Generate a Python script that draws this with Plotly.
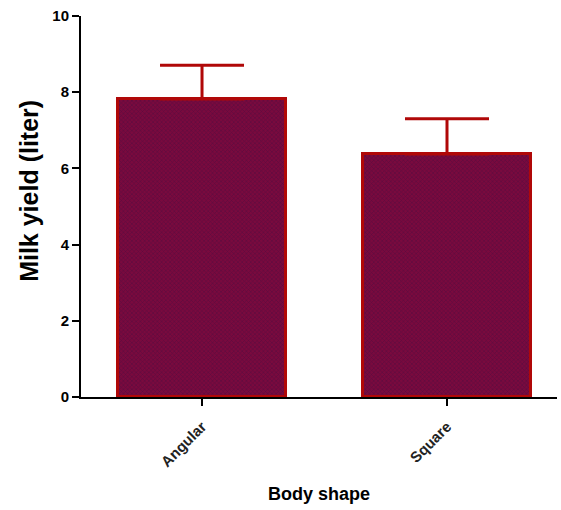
import plotly.graph_objects as go

categories = ["Angular", "Square"]
means = [7.82, 6.38]
errors = [0.89, 0.92]

fig = go.Figure()
fig.add_trace(go.Bar(
    x=[0, 1],
    y=means,
    width=0.686,
    marker=dict(
        color="#7a0a3e",
        line=dict(color="#b00808", width=3),
        pattern=dict(shape="x", size=3, solidity=0.35, fgcolor="#3a0a40", fillmode="overlay"),
    ),
    error_y=dict(type="data", array=errors, symmetric=False, arrayminus=[0, 0],
                 color="#b00808", thickness=3, width=42),
    showlegend=False,
))

fig.update_layout(
    width=561, height=510,
    margin=dict(l=81, r=4, t=16, b=113),
    plot_bgcolor="white", paper_bgcolor="white",
    font=dict(family="Liberation Sans, Arial, sans-serif", color="black"),
    bargap=0,
)
fig.update_xaxes(
    range=[-0.494, 1.449],
    tickvals=[0, 1], ticktext=["<b>%s</b>" % c for c in categories],
    tickangle=-45,
    tickfont=dict(size=15, color="#222222"),
    ticklabelstandoff=6,
    ticks="outside", ticklen=7, tickwidth=2, tickcolor="black",
    showline=True, linecolor="black", linewidth=2,
    showgrid=False, zeroline=False,
    title=dict(text="<b>Body shape</b>", font=dict(size=18), standoff=18),
)
fig.update_yaxes(
    range=[0, 10],
    tickvals=[0, 2, 4, 6, 8, 10],
    ticktext=["<b>%d</b>" % v for v in [0, 2, 4, 6, 8, 10]],
    tickfont=dict(size=15),
    ticks="outside", ticklen=7, tickwidth=2, tickcolor="black",
    showline=True, linecolor="black", linewidth=2,
    showgrid=False, zeroline=False,
)

# y-axis title placed as a rotated annotation
fig.add_annotation(
    text="<b>Milk yield (liter)</b>",
    xref="paper", yref="paper",
    x=-0.108, y=0.54, xanchor="center", yanchor="middle",
    textangle=-90, showarrow=False,
    font=dict(size=25),
)

fig.write_html("out.html")
